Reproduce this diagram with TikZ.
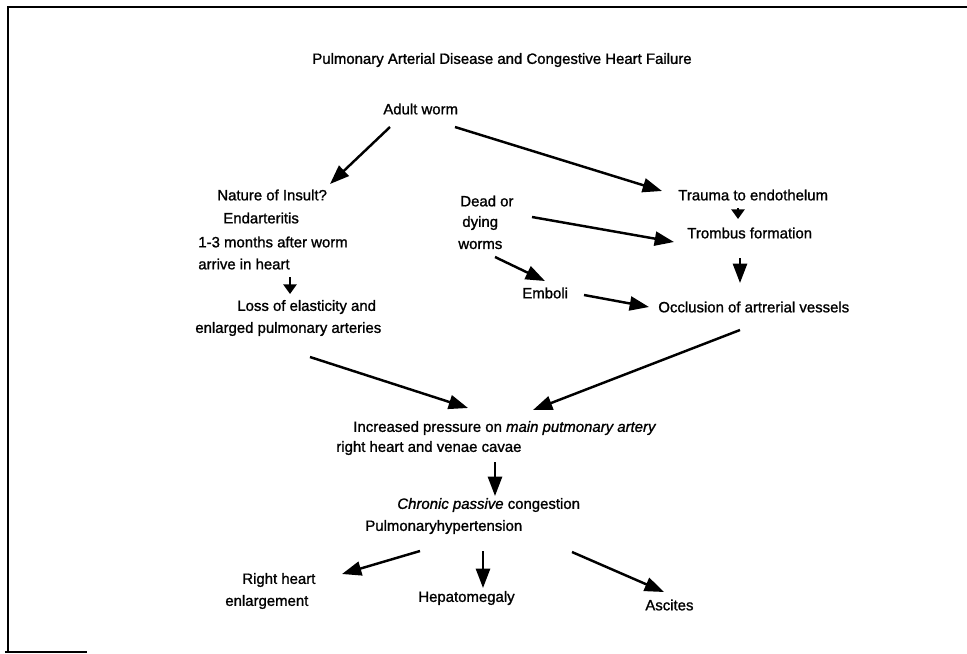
\documentclass[tikz,border=0pt]{standalone}
\usepackage{fontspec}
\setmainfont{Liberation Sans}[FakeBold=1.2]
\usetikzlibrary{arrows.meta,calc}

\begin{document}
\begin{tikzpicture}[x=0.02cm,y=-0.02cm,
		lbl/.style={anchor=west,inner sep=0pt,font=\fontsize{8.5}{10}\selectfont},
		arr/.style={line width=1.4pt,-{Triangle[length=11pt,width=8pt]}},
		shortarr/.style={line width=1.2pt,-{Triangle[length=5.5pt,width=7.5pt]}}]
			\useasboundingbox (0,0) rectangle (967,653);
			\draw[line width=1pt]  (967,7)-- (8,7)-- (8,651);
			\draw[line width=1pt]  (5,652)-- (87,652);
			\node[lbl] (title) at (312,60) {Pulmonary Arterial Disease and Congestive Heart Failure};
			\node[lbl] (adult) at (383,109) {Adult worm};
			\node[lbl] (insult) at (217,195) {Nature of Insult?};
			\node[lbl] (endart) at (223,218) {Endarteritis};
			\node[lbl] (months) at (198,242) {1-3 months after worm};
			\node[lbl] (arrive) at (198,264) {arrive in heart};
			\node[lbl] (loss) at (237,307) {Loss of elasticity and};
			\node[lbl] (enlarged) at (195,329) {enlarged pulmonary arteries};
			\node[lbl] (dead) at (460,201) {Dead or};
			\node[lbl] (dying) at (462,223) {dying};
			\node[lbl] (worms) at (458,245) {worms};
			\node[lbl] (trauma) at (678,195) {Trauma to endothelum};
			\node[lbl] (trombus) at (687,233) {Trombus formation};
			\node[lbl] (emboli) at (522,293) {Emboli};
			\node[lbl] (occl) at (658,307) {Occlusion of artrerial vessels};
			\node[lbl] (incr) at (353,428) {Increased pressure on \textit{main putmonary artery}};
			\node[lbl] (rhvc) at (336,448) {right heart and venae cavae};
			\node[lbl] (chronic) at (397,505) {\textit{Chronic passive} congestion};
			\node[lbl] (pulmhyp) at (365,527) {Pulmonaryhypertension};
			\node[lbl] (rheart) at (242,580) {Right heart};
			\node[lbl] (enlarg) at (225,602) {enlargement};
			\node[lbl] (hepato) at (418,598) {Hepatomegaly};
			\node[lbl] (ascites) at (645,605) {Ascites};
			% arrows
			\draw[arr]  ($(adult.west)+(7,18)$)-- ($(insult.west)+(113,-11)$);
			\draw[arr]  ($(adult.west)+(72,18)$)-- ($(trauma.west)+(-16,-4)$);
			\draw[shortarr]  ($(arrive.west)+(92,13)$)-- ($(loss.west)+(53,-13)$);
			\draw[shortarr]  ($(trauma.west)+(60,13)$)-- ($(trombus.west)+(51,-14)$);
			\draw[arr]  ($(dead.west)+(72,16)$)-- ($(trombus.west)+(-13,9)$);
			\draw[arr]  ($(worms.west)+(37,12)$)-- ($(emboli.west)+(23,-12)$);
			\draw[arr]  ($(emboli.west)+(62,2)$)-- ($(occl.west)+(-9,0)$);
			\draw[arr]  ($(trombus.west)+(53,25)$)-- ($(occl.west)+(82,-24)$);
			\draw[arr]  ($(occl.west)+(82,23)$)-- ($(incr.west)+(180,-18)$);
			\draw[arr]  ($(enlarged.west)+(115,28)$)-- ($(incr.west)+(115,-20)$);
			\draw[arr]  ($(rhvc.west)+(159,14)$)-- ($(chronic.west)+(98,-9)$);
			\draw[arr]  ($(pulmhyp.west)+(55,24)$)-- ($(rheart.west)+(100,-6)$);
			\draw[arr]  ($(pulmhyp.west)+(118,24)$)-- ($(hepato.west)+(65,-10)$);
			\draw[arr]  ($(pulmhyp.west)+(207,25)$)-- ($(ascites.west)+(19,-13)$);
		\end{tikzpicture}
\end{document}
